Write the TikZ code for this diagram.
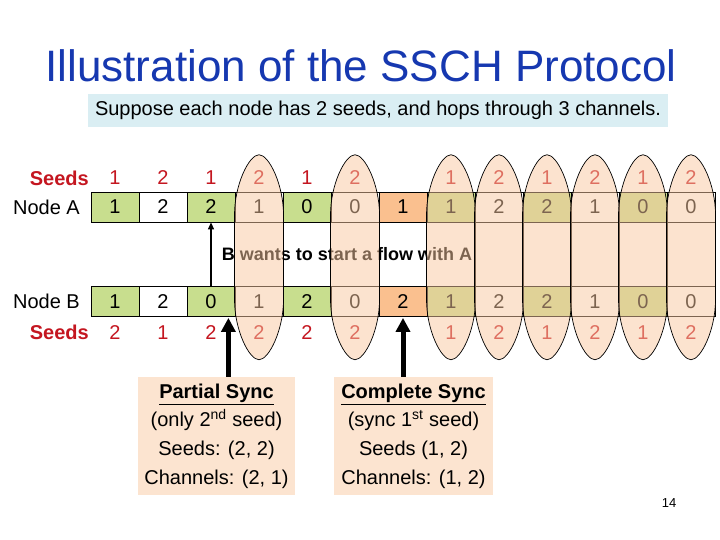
\documentclass[tikz,border=0pt]{standalone}
\usepackage{fontspec}
\setmainfont{Liberation Sans}
\usetikzlibrary{arrows.meta,calc}
\definecolor{cgreen}{RGB}{200,222,142}
\definecolor{corange}{RGB}{250,192,143}
\definecolor{cpeach}{RGB}{249,200,160}
\definecolor{cbox}{RGB}{252,228,208}
\definecolor{csub}{RGB}{218,238,243}
\definecolor{cred}{RGB}{196,22,32}
\definecolor{ctitle}{RGB}{22,56,176}
\tikzset{
 cell/.style={draw=black, line width=0.8pt, minimum width=48pt, minimum height=30pt, inner sep=0pt, font=\fontsize{20}{24}\selectfont},
 gcell/.style={cell, fill=cgreen},
 wcell/.style={cell, fill=white},
 ocell/.style={cell, fill=corange},
 seed/.style={text=cred, font=\fontsize{20}{24}\selectfont, inner sep=0pt},
 lbl/.style={font=\fontsize{20}{24}\selectfont, inner sep=0pt},
 redlbl/.style={font=\fontsize{20}{24}\selectfont\bfseries, text=cred, inner sep=0pt},
 oval/.style={draw=black, line width=0.7pt, fill=cpeach, fill opacity=0.5},
 bigarrow/.style={line width=5pt, -{Triangle[width=14pt,length=14pt]}},
 thinarrow/.style={line width=1.2pt, -{Triangle[width=6pt,length=7pt]}},
 infobox/.style={fill=cbox, minimum height=118pt, align=center, font=\fontsize{20}{28.6}\selectfont, inner sep=0pt},
}
\begin{document}
\begin{tikzpicture}[x=1pt,y=-1pt]
\useasboundingbox (0,0) rectangle (720,540);
% title
\node[text=ctitle, font=\fontsize{44}{48}\selectfont, inner sep=0pt] (title) at (361,66) {Illustration of the SSCH Protocol};
\node[fill=csub, minimum width=580pt, minimum height=33pt, inner sep=0pt, font=\fontsize{20}{24}\selectfont] (sub) at (378,110.5) {Suppose each node has 2 seeds, and hops through 3 channels.};
% rows
\foreach \v/\s [count=\i] in {1/gcell,2/wcell,2/gcell,1/wcell,0/gcell,0/wcell,1/ocell,1/gcell,2/wcell,2/gcell,1/wcell,0/gcell,0/wcell}
  \node[\s] (a\i) at (67+48*\i,207) {\v};
\foreach \v/\s [count=\i] in {1/gcell,2/wcell,0/gcell,1/wcell,2/gcell,0/wcell,2/ocell,1/gcell,2/wcell,2/gcell,1/wcell,0/gcell,0/wcell}
  \node[\s] (b\i) at (67+48*\i,301.5) {\v};
\foreach \v [count=\i] in {1,2,1,2,1,2,{},1,2,1,2,1,2}
  \node[seed] (sa\i) at ($(a\i.north)+(0,-14)$) {\v};
\foreach \v [count=\i] in {2,1,2,2,2,2,{},1,2,1,2,1,2}
  \node[seed] (sb\i) at ($(b\i.south)+(0,16)$) {\v};
\node[redlbl, anchor=east] (seedsA) at (89,178) {Seeds};
\node[lbl, anchor=east] (nodeA) at (80,207) {Node A};
\node[lbl, anchor=east] (nodeB) at (80,301.5) {Node B};
\node[redlbl, anchor=east] (seedsB) at (89,332) {Seeds};
% message
\draw[thinarrow] (b3.north) -- (a3.south);
\node[font=\fontsize{18}{20}\selectfont\bfseries, inner sep=0pt] (msg) at (347,254) {B wants to start a flow with A};
% ovals
\foreach \i in {4,6,8,9,10,11,12,13}{
  \coordinate (o\i) at ($(a\i)!0.5!(b\i)+(0,3)$);
  \draw[oval] ($(o\i)+(0,-102.5)$)
     .. controls +(10,0) and +(0,-30) .. ++(24.5,60)
     -- ++(0,85)
     .. controls +(0,30) and +(10,0) .. ++(-24.5,60)
     .. controls +(-10,0) and +(0,30) .. ++(-24.5,-60)
     -- ++(0,-85)
     .. controls +(0,-30) and +(-10,0) .. ++(24.5,-60) -- cycle;
}
% info boxes
\node[infobox, minimum width=157pt] (ps) at (216.5,436) {\underline{\textbf{Partial Sync}}\\(only 2\textsuperscript{nd} seed)\\Seeds: (2, 2)\\Channels: (2, 1)};
\node[infobox, minimum width=159pt] (cs) at (413.5,436) {\underline{\textbf{Complete Sync}}\\(sync 1\textsuperscript{st} seed)\\Seeds (1, 2)\\Channels: (1, 2)};
\coordinate (t1) at ($(b3.south east)+(-7,1)$);
\draw[bigarrow] (t1 |- ps.north) -- (t1);
\coordinate (t2) at ($(b7.south)+(0,1)$);
\draw[bigarrow] (t2 |- cs.north) -- (t2);
\node[font=\fontsize{13}{15}\selectfont, inner sep=0pt] (pg) at (669,503) {14};
\end{tikzpicture}
\end{document}
